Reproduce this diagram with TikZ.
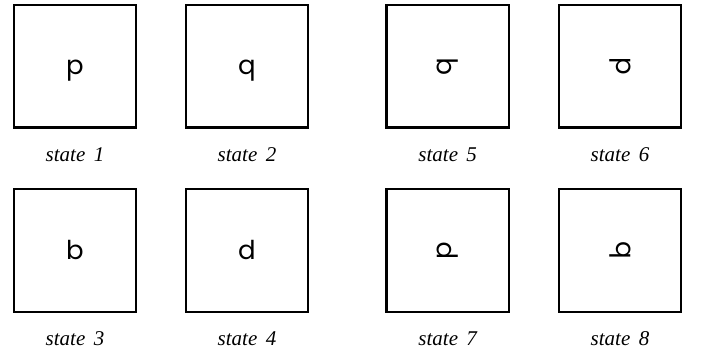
\documentclass[tikz,border=0pt]{standalone}
\usepackage{fontspec}
\setmainfont{Liberation Serif}
\newfontfamily\buchstabenfont{Poppins}
\begin{document}
\begin{tikzpicture}[x=1pt, y=1pt,
    feld/.style={draw, line width=2.2pt, minimum width=122.3pt, minimum height=122.3pt, inner sep=0pt},
    zeichen/.style={font=\buchstabenfont\fontsize{26}{26}\selectfont, inner sep=0pt},
    zustand/.style={font=\fontsize{21}{21}\selectfont\itshape, anchor=base, inner sep=0pt}]

    % --- 1. RAHMEN ---
    \useasboundingbox (0,0) rectangle (702,352);

    % --- 2. MAKRO: Feld + Buchstabe + Beschriftung ---
    \newcommand{\statefeld}[6]{
        \node[feld] (#1) at (#2,#3) {};
        \node[zeichen, #5] (#1z) at (#1.center) {#4};
        \node[zustand] (#1t) at ([yshift=-33pt]#1.south) {state\hspace{0.4em}#6};
    }

    % --- 3. LINKE HAELFTE (aufrecht) ---
    \statefeld{s1}{75}{285.7}{p}{anchor=base, yshift=-8pt}{1}
    \statefeld{s2}{247}{285.7}{q}{anchor=base, yshift=-8pt}{2}
    \statefeld{s3}{75}{101.5}{b}{anchor=base, yshift=-9.5pt}{3}
    \statefeld{s4}{247}{101.5}{d}{anchor=base, yshift=-9.5pt}{4}

    % --- 4. RECHTE HAELFTE (gedreht) ---
    \statefeld{s5}{447.7}{285.7}{q}{rotate=90}{5}
    \statefeld{s6}{620}{285.7}{p}{rotate=-90}{6}
    \statefeld{s7}{447.7}{101.5}{p}{rotate=90}{7}
    \statefeld{s8}{620}{101.5}{q}{rotate=-90}{8}

\end{tikzpicture}
\end{document}
